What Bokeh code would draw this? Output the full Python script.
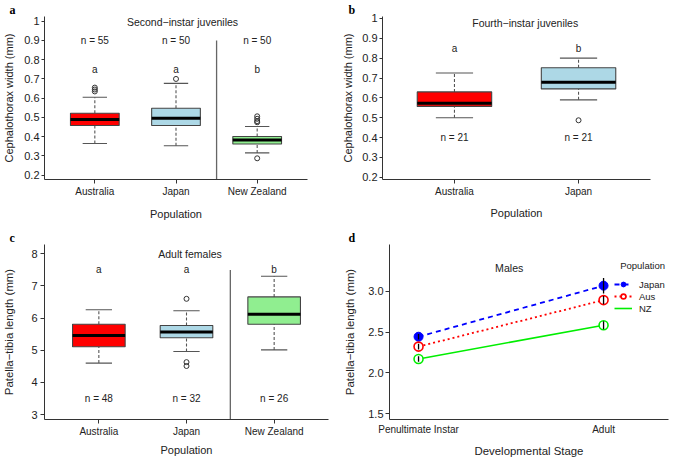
from bokeh.plotting import figure
from bokeh.layouts import row, column
from bokeh.models import FixedTicker, Range1d, Legend, LegendItem, ColumnDataSource, PrintfTickFormatter
from bokeh.core.properties import value
from bokeh.embed import file_html
from bokeh.resources import INLINE

FONT = "Liberation Sans"
SERIF = "Liberation Serif"
TXT = "#222222"
AXC = "#333333"

# ---------------- data ----------------
# Panel a: second-instar juveniles, cephalothorax width (mm)
a_pops = ["Australia", "Japan", "New Zealand"]
a_q1 = [0.458, 0.458, 0.362]
a_med = [0.489, 0.496, 0.383]
a_q3 = [0.522, 0.548, 0.401]
a_lo = [0.365, 0.353, 0.316]
a_hi = [0.605, 0.677, 0.453]
a_out_pop = ["Australia", "Australia", "Australia", "Japan",
             "New Zealand", "New Zealand", "New Zealand", "New Zealand", "New Zealand"]
a_out_val = [0.635, 0.645, 0.655, 0.700, 0.475, 0.481, 0.493, 0.506, 0.288]
a_n = ["n = 55", "n = 50", "n = 50"]
a_sig = ["a", "a", "b"]

# Panel b: fourth-instar juveniles
b_pops = ["Australia", "Japan"]
b_q1 = [0.557, 0.645]
b_med = [0.573, 0.679]
b_q3 = [0.630, 0.752]
b_lo = [0.500, 0.590]
b_hi = [0.725, 0.800]
b_out_pop = ["Japan"]
b_out_val = [0.487]
b_n = ["n = 21", "n = 21"]
b_sig = ["a", "b"]

# Panel c: adult females, patella-tibia length (mm)
c_pops = ["Australia", "Japan", "New Zealand"]
c_q1 = [5.11, 5.39, 5.81]
c_med = [5.46, 5.57, 6.12]
c_q3 = [5.81, 5.77, 6.66]
c_lo = [4.60, 4.96, 5.01]
c_hi = [6.26, 6.23, 7.30]
c_out_pop = ["Japan", "Japan", "Japan"]
c_out_val = [6.60, 4.63, 4.51]
c_n = ["n = 48", "n = 32", "n = 26"]
c_sig = ["a", "a", "b"]

# Panel d: males, patella-tibia length (mm), mean and error
d_stages = ["Penultimate Instar", "Adult"]
d_japan = [2.442, 3.068]
d_japan_se = [0.035, 0.095]
d_aus = [2.321, 2.891]
d_aus_se = [0.035, 0.05]
d_nz = [2.169, 2.583]
d_nz_se = [0.035, 0.05]

box_colors = ["#FF0000", "#ADD8E6", "#90EE90"]


def base_fig(width, height, xr, yr, ml, mr, mt, mb, letter, letter_offset):
    p = figure(width=width, height=height, x_range=Range1d(*xr), y_range=Range1d(*yr),
               output_backend="svg", toolbar_location=None,
               min_border_left=ml, min_border_right=mr, min_border_top=mt, min_border_bottom=mb)
    p.xgrid.visible = False
    p.ygrid.visible = False
    p.outline_line_color = None
    p.title.text = letter
    p.title.align = "left"
    p.title.offset = letter_offset
    p.title.standoff = 0
    p.title.text_font = SERIF
    p.title.text_font_style = "bold"
    p.title.text_font_size = "12px"
    p.title.text_color = "black"
    for ax in (p.xaxis[0], p.yaxis[0]):
        ax.axis_line_color = AXC
        ax.axis_line_width = 1
        ax.major_tick_line_color = AXC
        ax.minor_tick_line_color = None
        ax.major_tick_in = 0
        ax.major_tick_out = 4
        ax.major_label_text_font = FONT
        ax.axis_label_text_font = FONT
        ax.axis_label_text_font_style = "normal"
        ax.axis_label_text_color = TXT
        ax.major_label_text_color = TXT
    return p


def boxes(p, cats, q1, med, q3, lo, hi, out_cat, out_val, width=0.6):
    xs = [i + 1 for i in range(len(cats))]
    half = width / 2
    cap = width / 4
    src = ColumnDataSource(dict(
        x=xs, q1=q1, med=med, q3=q3, lo=lo, hi=hi,
        color=box_colors[:len(cats)],
        bx0=[x - half for x in xs], bx1=[x + half for x in xs],
        cx0=[x - cap for x in xs], cx1=[x + cap for x in xs]))
    p.segment(x0="x", y0="q3", x1="x", y1="hi", source=src,
              line_color="#555555", line_dash="3 2", line_width=1.1)
    p.segment(x0="x", y0="lo", x1="x", y1="q1", source=src,
              line_color="#555555", line_dash="3 2", line_width=1.1)
    p.segment(x0="cx0", y0="hi", x1="cx1", y1="hi", source=src,
              line_color="#555555", line_width=1.1)
    p.segment(x0="cx0", y0="lo", x1="cx1", y1="lo", source=src,
              line_color="#555555", line_width=1.1)
    p.quad(left="bx0", right="bx1", bottom="q1", top="q3", source=src,
           fill_color="color", line_color="#444444", line_width=1.1)
    p.segment(x0="bx0", y0="med", x1="bx1", y1="med", source=src,
              line_color="black", line_width=3)
    ox = [cats.index(c) + 1 for c in out_cat]
    p.scatter(x=ox, y=out_val, marker="circle", size=5, fill_color=None,
              line_color="#333333", line_width=1)
    return xs


def cat_axis(p, cats, size="10px"):
    xs = [i + 1 for i in range(len(cats))]
    p.xaxis.ticker = FixedTicker(ticks=xs)
    p.xaxis.major_label_overrides = {x: c for x, c in zip(xs, cats)}
    p.xaxis.major_label_text_font_size = size


def ptext(p, xs, ys, texts, size="10px", align="center"):
    p.text(x=xs, y=ys, text=texts, text_font=value(FONT), text_font_size=size,
           text_align=align, text_baseline="middle", text_color=TXT)


a_yt = [0.2, 0.3, 0.4, 0.5, 0.6, 0.7, 0.8, 0.9, 1.0]

# ---------------- panel a ----------------
pa = base_fig(332, 222, (0.38, 3.62), (0.178, 1.024), 42, 25, 13, 42, "a", -35)
xs_a = boxes(pa, a_pops, a_q1, a_med, a_q3, a_lo, a_hi, a_out_pop, a_out_val)
cat_axis(pa, a_pops)
pa.yaxis.ticker = FixedTicker(ticks=a_yt)
pa.yaxis.major_label_overrides = {1.0: "1"}
pa.yaxis.major_label_text_font_size = "11px"
pa.yaxis.major_tick_out = 3
pa.yaxis.major_label_standoff = 2
pa.yaxis.axis_label = "Cephalothorax width (mm)"
pa.yaxis.axis_label_text_font_size = "11px"
pa.yaxis.axis_label_standoff = 6
pa.xaxis.axis_label = "Population"
pa.xaxis.axis_label_text_font_size = "11px"
pa.xaxis.major_label_standoff = 2
pa.xaxis.axis_label_standoff = 8
pa.segment(x0=[2.5], y0=[0.9], x1=[2.5], y1=[0.178], line_color="#666666", line_width=1.3)
ptext(pa, xs_a, [0.9] * 3, a_n)
ptext(pa, xs_a, [0.75] * 3, a_sig)
ptext(pa, [2.08], [0.995], ["Second\u2212instar juveniles"], size="10.5px")

# ---------------- panel b ----------------
pb = base_fig(337, 222, (0.42, 2.58), (0.1885, 1.01), 50, 19, 13, 42, "b", -34)
xs_b = boxes(pb, b_pops, b_q1, b_med, b_q3, b_lo, b_hi, b_out_pop, b_out_val)
cat_axis(pb, b_pops)
pb.yaxis.ticker = FixedTicker(ticks=a_yt)
pb.yaxis.major_label_overrides = {1.0: "1"}
pb.yaxis.major_label_text_font_size = "11px"
pb.yaxis.major_tick_out = 3
pb.yaxis.major_label_standoff = 2
pb.yaxis.axis_label = "Cephalothorax width (mm)"
pb.yaxis.axis_label_text_font_size = "11px"
pb.yaxis.axis_label_standoff = 5
pb.xaxis.axis_label = "Population"
pb.xaxis.axis_label_text_font_size = "11px"
pb.xaxis.major_label_standoff = 2
pb.xaxis.axis_label_standoff = 7
ptext(pb, xs_b, [0.4] * 2, b_n)
ptext(pb, xs_b, [0.85] * 2, b_sig)
ptext(pb, [1.57], [0.975], ["Fourth\u2212instar juveniles"], size="10.5px")

# ---------------- panel c ----------------
pc = base_fig(332, 237, (0.38, 3.62), (2.845, 8.29), 42, 4, 22, 39, "c", -35)
xs_c = boxes(pc, c_pops, c_q1, c_med, c_q3, c_lo, c_hi, c_out_pop, c_out_val)
cat_axis(pc, c_pops)
pc.yaxis.ticker = FixedTicker(ticks=[3, 4, 5, 6, 7, 8])
pc.yaxis.major_label_text_font_size = "11px"
pc.yaxis.major_tick_out = 4
pc.yaxis.major_label_standoff = 3
pc.yaxis.axis_label = "Patella\u2212tibia length (mm)"
pc.yaxis.axis_label_text_font_size = "11.4px"
pc.yaxis.axis_label_standoff = 13
pc.xaxis.axis_label = "Population"
pc.xaxis.axis_label_text_font_size = "11px"
pc.xaxis.major_label_standoff = 2
pc.xaxis.axis_label_standoff = 4
pc.segment(x0=[2.5], y0=[7.5], x1=[2.5], y1=[2.845], line_color="#666666", line_width=1.3)
ptext(pc, xs_c, [3.5] * 3, c_n)
ptext(pc, xs_c, [7.5] * 3, c_sig)
ptext(pc, [2.04], [8.0], ["Adult females"], size="10.5px")

# ---------------- panel d ----------------
pd_ = base_fig(337, 237, (0.843, 2.351), (1.427, 3.573), 57, 1, 22, 39, "d", -41)
sx = [i + 1 for i in range(len(d_stages))]
pd_.xaxis.ticker = FixedTicker(ticks=sx)
pd_.xaxis.major_label_overrides = {x: s for x, s in zip(sx, d_stages)}
pd_.xaxis.major_label_text_font_size = "10px"
pd_.xaxis.major_tick_out = 0
pd_.xaxis.major_label_standoff = 4
pd_.xaxis.axis_label = "Developmental Stage"
pd_.xaxis.axis_label_text_font_size = "11.4px"
pd_.xaxis.axis_label_standoff = 7
pd_.yaxis.ticker = FixedTicker(ticks=[1.5, 2.0, 2.5, 3.0])
pd_.yaxis.formatter = PrintfTickFormatter(format="%.1f")
pd_.yaxis.major_label_text_font_size = "11px"
pd_.yaxis.major_tick_out = 4
pd_.yaxis.major_label_standoff = 2
pd_.yaxis.axis_label = "Patella\u2212tibia length (mm)"
pd_.yaxis.axis_label_text_font_size = "11.4px"
pd_.yaxis.axis_label_standoff = 9

BLUE, RED, GREEN = "#0000FF", "#FF0000", "#00EE00"
lj = pd_.line(sx, d_japan, line_color=BLUE, line_dash="5 4", line_width=1.8)
la = pd_.line(sx, d_aus, line_color=RED, line_dash="2 3", line_width=1.8)
ln = pd_.line(sx, d_nz, line_color=GREEN, line_width=1.6)
sj = pd_.scatter(sx, d_japan, marker="circle", size=9, fill_color=BLUE, line_color=BLUE)
sa = pd_.scatter(sx, d_aus, marker="circle", size=9, fill_color="white", line_color=RED, line_width=1.6)
pd_.scatter(sx, d_nz, marker="circle", size=9, fill_color="white", line_color=GREEN, line_width=1.6)
for m, se in ((d_japan, d_japan_se), (d_aus, d_aus_se), (d_nz, d_nz_se)):
    pd_.segment(x0=sx, y0=[a - b for a, b in zip(m, se)], x1=sx,
                y1=[a + b for a, b in zip(m, se)], line_color="black", line_width=1.3)

ptext(pd_, [1.49], [3.29], ["Males"], size="10.6px")
ptext(pd_, [2.211], [3.31], ["Population"], size="9.5px")
legend = Legend(items=[LegendItem(label="Japan", renderers=[lj, sj]),
                       LegendItem(label="Aus", renderers=[la, sa]),
                       LegendItem(label="NZ", renderers=[ln])],
                location=(225, 105), padding=0, margin=0, spacing=0,
                glyph_width=18, glyph_height=12, label_height=12, label_standoff=7,
                label_text_font=FONT, label_text_font_size="9.5px", label_text_color=TXT,
                border_line_color=None, background_fill_alpha=0)
pd_.add_layout(legend)

layout = column(row(pa, pb), row(pc, pd_))
open("out.html", "w").write(file_html(layout, INLINE))
